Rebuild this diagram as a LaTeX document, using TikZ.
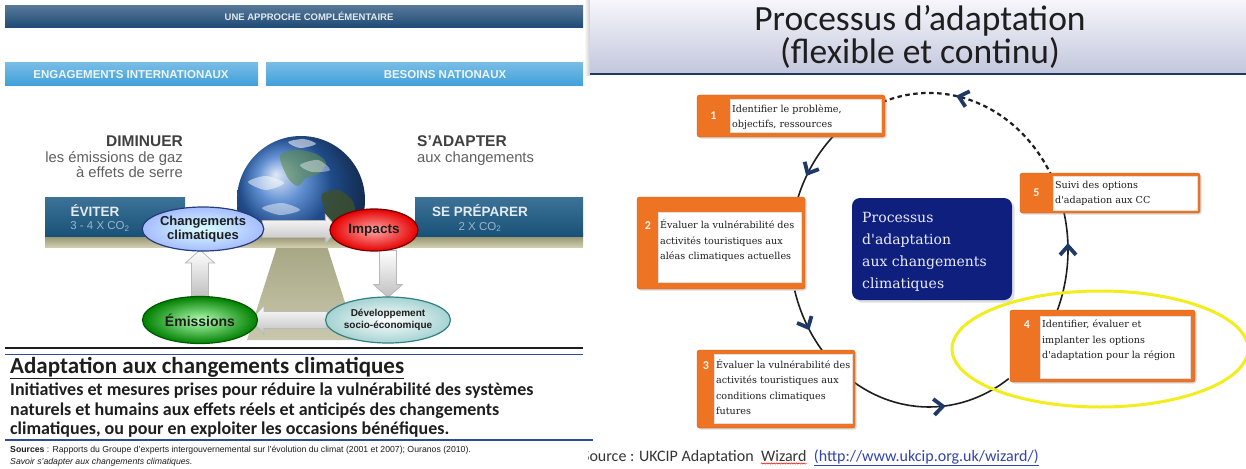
\documentclass[tikz,border=0pt]{standalone}
\usepackage{fontspec}
\setmainfont{Liberation Sans}
\newfontfamily\calfont{Carlito}
\newfontfamily\stepfont{DejaVu Serif}
\usetikzlibrary{shapes.geometric,shadows,decorations.markings,decorations.pathmorphing,calc}
\pgfdeclarelayer{canvasbg}
\pgfdeclarelayer{scenery}
\pgfdeclarelayer{arrowlayer}
\pgfsetlayers{canvasbg,scenery,arrowlayer,main}

\definecolor{hdrnavy}{HTML}{1D4A75}
\definecolor{barblue}{HTML}{3E9FDA}
\definecolor{tealbox}{HTML}{1B5A85}
\definecolor{plankA}{HTML}{86845A}
\definecolor{plankB}{HTML}{CFCDAE}
\definecolor{olive}{HTML}{A4A375}
\definecolor{ink}{HTML}{1E1E1E}
\definecolor{rulblue}{HTML}{2F4A9A}
\definecolor{globeblue}{HTML}{2E6CC4}
\definecolor{landgreen}{HTML}{5E8C4A}
\definecolor{landbrown}{HTML}{3F5028}
\definecolor{procorange}{HTML}{EE7424}
\definecolor{procnavy}{HTML}{0F1F7E}
\definecolor{chevnavy}{HTML}{1F3A66}
\definecolor{ringyellow}{HTML}{F2EE1E}
\definecolor{urlblue}{HTML}{3344AA}
\definecolor{titleA}{HTML}{F6F6FB}
\definecolor{titleB}{HTML}{C3C7DC}
\definecolor{titlenavy}{HTML}{1F3864}

\newcommand{\fsz}[2]{\fontsize{#1}{#2}\selectfont}
% block arrow: start point, direction (degrees), length
\newcommand{\drawblockarrow}[3]{%
  \shade[blockarr, shift={#1}, rotate=#2]
    (0,-8.5) -- ({#3-13},-8.5) -- ({#3-13},-14.5) -- (#3,0) -- ({#3-13},14.5)
    -- ({#3-13},8.5) -- (0,8.5) -- cycle;}

\begin{document}
\begin{tikzpicture}[x=1pt,y=-1pt,
  hdrbar/.style={rectangle, top color=hdrnavy!75!white, bottom color=hdrnavy, inner sep=0},
  bluebar/.style={rectangle, top color=barblue!70!white, bottom color=barblue, inner sep=0},
  hdrtext/.style={font=\fsz{9.5}{11}\bfseries, text=white!88!hdrnavy, inner sep=0},
  bartext/.style={font=\fsz{11.5}{13}\bfseries, text=white!90!barblue, inner sep=0},
  tealpanel/.style={rectangle, top color=tealbox!85!white, bottom color=tealbox!90!black, inner sep=0},
  tealhead/.style={font=\fsz{13.5}{15}\bfseries, text=white!88!tealbox, inner sep=0},
  tealsub/.style={font=\fsz{11.5}{13}, text=white!55!tealbox, inner sep=0},
  lefthead/.style={font=\fsz{15.5}{17}\bfseries, text=ink!85, inner sep=0},
  leftsub/.style={font=\fsz{14.8}{15}, text=gray!75!black, inner sep=0},
  ellnode/.style={ellipse, inner sep=0, line width=1.2, align=center, text=ink},
  blockarr/.style={draw=gray!55, line width=0.8, top color=white, bottom color=gray!50},
  obox/.style={rectangle, rounded corners=2.5, fill=procorange, draw=procorange!85!black,
    line width=0.4, drop shadow={shadow xshift=1.5pt, shadow yshift=-1.5pt, opacity=0.3}, inner sep=0},
  wbox/.style={rectangle, fill=white, draw=gray!25, line width=0.3, inner sep=0},
  btxt/.style={font=\stepfont\fsz{9.6}{15.5}, text=ink, align=left, inner sep=1},
  bnum/.style={font=\calfont\fsz{12}{12}\bfseries, text=white!92!procorange, inner sep=0},
  navybox/.style={rectangle, rounded corners=8, fill=procnavy, inner sep=0, drop shadow={opacity=0.25}},
  flowline/.style={line width=1.6, draw=ink},
  dashline/.style={line width=2.2, draw=ink, dash pattern=on 4.5pt off 3.5pt},
  chevron/.style={solid, line width=3.8, draw=chevnavy, line join=miter, line cap=butt},
  chevat/.style={postaction={decorate, decoration={markings,
    mark=at position #1 with {\draw[chevron] (-5.5pt,8pt) -- (3.5pt,0pt) -- (-5.5pt,-8pt);}}}},
]
\useasboundingbox (0,0) rectangle (1246,468);
\begin{pgfonlayer}{canvasbg}
  \fill[white] (0,0) rectangle (1246,468);
\end{pgfonlayer}

% ================= left slide =================
\node[hdrbar, minimum width=578, minimum height=22] (hdr) at (294,17) {};
\node[hdrtext] (hdrt) at (309,16.5) {UNE APPROCHE COMPLÉMENTAIRE};

\node[bluebar, minimum width=253, minimum height=23] (engbar) at (131.5,74.5) {};
\node[bartext] (engt) at (131,75) {ENGAGEMENTS INTERNATIONAUX};
\node[bluebar, minimum width=317, minimum height=23] (besbar) at (424.5,74.5) {};
\node[bartext] (best) at (445,75) {BESOINS NATIONAUX};

\node[lefthead, anchor=base east] (dim) at (183,146) {DIMINUER};
\node[leftsub, anchor=base east] (dim2) at (183,162) {les émissions de gaz};
\node[leftsub, anchor=base east] (dim3) at (183,177.5) {à effets de serre};
\node[lefthead, anchor=base west] (sad) at (417,146) {S'ADAPTER};
\node[leftsub, anchor=base west] (sad2) at (417,162) {aux changements};

% fulcrum, globe and plank of the balance
\begin{pgfonlayer}{scenery}
  \shade[top color=olive!85!black, bottom color=olive!60!white]
    (302,168) -- (357,340) -- (247,340) -- cycle;
  \begin{scope}
    \clip (225,125) rectangle (380,240);
    \node[circle, minimum size=128, inner sep=0, ball color=globeblue] (globe) at (301,200) {};
    \fill[landgreen, opacity=0.6] plot[smooth cycle] coordinates
      {(280,156) (296,150) (316,154) (326,163) (318,174) (306,178) (298,186) (288,178)};
    \fill[white, opacity=0.55] plot[smooth cycle] coordinates
      {(288,142) (304,139) (316,144) (300,148)};
    \fill[landbrown, opacity=0.8] plot[smooth cycle] coordinates
      {(322,194) (338,190) (352,200) (356,216) (349,232) (338,240) (329,226) (324,208)};
    \fill[white, opacity=0.5] plot[smooth cycle] coordinates
      {(248,182) (266,176) (284,183) (266,190)};
    \fill[white, opacity=0.45] plot[smooth cycle] coordinates
      {(262,208) (282,203) (300,210) (280,215)};
    \fill[white, opacity=0.4] plot[smooth cycle] coordinates
      {(300,165) (318,160) (330,170) (312,172)};
  \end{scope}
  \shade[top color=plankA, bottom color=plankB] (45,233) rectangle (583,247);
\end{pgfonlayer}

\node[tealpanel, minimum width=140, minimum height=39] (evb) at (115,216.5) {};
\node[tealhead] (evt) at (95,211) {ÉVITER};
\node[tealsub] (evs) at (100,226.5) {3 - 4 X CO\textsubscript{2}};
\node[tealpanel, minimum width=168, minimum height=39] (spb) at (499,216.5) {};
\node[tealhead] (spt) at (480,211) {SE PRÉPARER};
\node[tealsub] (sps) at (480,227) {2 X CO\textsubscript{2}};

% the four stages of the cycle
\node[ellnode, minimum width=110, minimum height=44, draw=rulblue!80!black,
  inner color=white!85!cyan, outer color=cyan!25!blue!35!white, font=\fsz{13}{13.5}\bfseries]
  (cc) at (203,229) {Changements\\climatiques};
\node[ellnode, minimum width=88, minimum height=42, draw=red!45!black,
  inner color=red!35!white, outer color=red!90!black, font=\fsz{13.5}{14}\bfseries]
  (imp) at (374,230) {Impacts};
\node[ellnode, minimum width=115, minimum height=47, draw=green!35!black,
  inner color=green!30!white, outer color=green!50!black, font=\fsz{14}{14}\bfseries]
  (em) at (200,320) {Émissions};
\node[ellnode, minimum width=115, minimum height=46, draw=teal!60!gray,
  inner color=white, outer color=teal!35!white, font=\fsz{10}{11.5}\bfseries]
  (dev) at (388,320) {Développement\\socio-économique};

\begin{pgfonlayer}{arrowlayer}
  \drawblockarrow{($(cc.east)+(-2,0)$)}{0}{76}
  \drawblockarrow{($(dev.north)+(0,-46)$)}{-90}{47}
  \drawblockarrow{($(dev.west)+(2,0)$)}{180}{76}
  \drawblockarrow{($(em.north)+(0,1)$)}{90}{47}
\end{pgfonlayer}

% definition block
\draw[line width=1.8, ink] (5,348) -- (583,348);
\draw[line width=0.9, rulblue] (5,354) -- (583,354);
\node[anchor=base west, inner sep=0, font=\calfont\fsz{23}{24}\bfseries, text=ink] (deft)
  at (10,373) {\underline{Adaptation aux changements climatiques}};
\node[anchor=base west, inner sep=0, font=\calfont\fsz{18}{19.5}\bfseries, text=ink] (def1)
  at (10,395) {Initiatives et mesures prises pour réduire la vulnérabilité des systèmes};
\node[anchor=base west, inner sep=0, font=\calfont\fsz{18}{19.5}\bfseries, text=ink] (def2)
  at (10,415) {naturels et humains aux effets réels et anticipés des changements};
\node[anchor=base west, inner sep=0, font=\calfont\fsz{18}{19.5}\bfseries, text=ink] (def3)
  at (10,434) {climatiques, ou pour en exploiter les occasions bénéfiques.};
\draw[line width=1.3, rulblue] (5,440) -- (593,440);
\node[anchor=base west, inner sep=0, font=\fsz{8.7}{9}, text=ink] (src1)
  at (10,452) {\textbf{Sources} : Rapports du Groupe d'experts intergouvernemental sur l'évolution du climat (2001 et 2007); Ouranos (2010).};
\node[anchor=base west, inner sep=0, font=\fsz{8.7}{9}\itshape, text=ink] (src2)
  at (10,464) {Savoir s'adapter aux changements climatiques.};

% ================= right slide =================
\shade[left color=white, right color=gray!40] (584,0) rectangle (590,76);
\shade[top color=titleA, bottom color=titleB] (590,0) rectangle (1246,73);
\draw[line width=2, titlenavy] (590,74) -- (1246,74);
\node[font=\calfont\fsz{35.5}{31}, text=ink, align=center, inner sep=0] (ttl)
  at (920,37) {Processus d’adaptation\\(flexible et continu)};

% steps
\node[obox, minimum width=188, minimum height=42] (b1) at (791,116) {};
\node[wbox, minimum width=151, minimum height=33, anchor=east] (w1) at ([xshift=-4pt]b1.east) {};
\node[btxt, anchor=north west] (t1) at ([xshift=1pt,yshift=-4pt]w1.north west) {Identifier le problème,\\objectifs, ressources};
\node[bnum] (n1) at ($(b1.west)!0.5!(w1.west)$) {1};

\node[obox, minimum width=168, minimum height=92] (b2) at (721,243) {};
\node[wbox, minimum width=143, minimum height=70, anchor=east] (w2) at ([xshift=-4pt,yshift=-4pt]b2.east) {};
\node[btxt, anchor=north west] (t2) at ([xshift=1pt,yshift=-7pt]w2.north west) {Évaluer la vulnérabilité des\\activités touristiques aux\\aléas climatiques actuelles};
\node[bnum] (n2) at (648,226) {2};

\node[obox, minimum width=158, minimum height=78] (b3) at (776,389) {};
\node[wbox, minimum width=138, minimum height=69, anchor=east] (w3) at ([xshift=-3pt]b3.east) {};
\node[btxt, anchor=north west] (t3) at ([xshift=1pt,yshift=-4pt]w3.north west) {Évaluer la vulnérabilité des\\activités touristiques aux\\conditions climatiques\\futures};
\node[bnum] (n3) at (706,366) {3};

\node[obox, minimum width=185, minimum height=72] (b4) at (1102.5,346) {};
\node[wbox, minimum width=150, minimum height=62, anchor=east] (w4) at ([xshift=-5pt,yshift=-1pt]b4.east) {};
\node[btxt, anchor=north west] (t4) at ([xshift=1pt,yshift=-3pt]w4.north west) {Identifier, évaluer et\\implanter les options\\d'adaptation pour la région};
\node[bnum] (n4) at (1027,325) {4};

\node[obox, minimum width=180, minimum height=40] (b5) at (1110,193) {};
\node[wbox, minimum width=144, minimum height=34, anchor=east] (w5) at ([xshift=-3pt]b5.east) {};
\node[btxt, anchor=north west] (t5) at ([xshift=1pt,yshift=-4pt]w5.north west) {Suivi des options\\d'adapation aux CC};
\node[bnum] (n5) at ($(b5.west)!0.5!(w5.west)$) {5};

\node[navybox, minimum width=160, minimum height=102] (nb) at (932,249) {};
\node[anchor=north west, inner sep=0, font=\stepfont\fsz{14}{22}, text=white!92!blue, align=left] (nbt)
  at (862,212) {Processus\\d'adaptation\\aux changements\\climatiques};

% the cycle, drawn behind the steps
\coordinate (C) at (929,250);
\coordinate (s12) at ($(C)+(-130:139 and 157)$);
\coordinate (s23) at ($(C)+(-195:139 and 157)$);
\coordinate (s34) at ($(C)+(-230:139 and 157)$);
\coordinate (s45) at ($(C)+(-330:139 and 157)$);
\coordinate (s51) at ($(C)+(-25:139 and 157)$);
\begin{pgfonlayer}{scenery}
  \draw[flowline, chevat=0.55] (s12) arc[start angle=-130, end angle=-165, x radius=139, y radius=157];
  \draw[flowline, chevat=0.45] (s23) arc[start angle=-195, end angle=-225, x radius=139, y radius=157];
  \draw[flowline, chevat=0.59] (s34) arc[start angle=-230, end angle=-305, x radius=139, y radius=157];
  \draw[flowline, chevat=0.67] (s45) arc[start angle=-330, end angle=-375, x radius=139, y radius=157];
  \draw[dashline, chevat=0.6] (s51) arc[start angle=-25, end angle=-112, x radius=139, y radius=157];
\end{pgfonlayer}

% highlight of step 4
\draw[ringyellow, line width=3] (1100,349) ellipse [x radius=148, y radius=58];

% reference line
\begin{scope}
  \clip (588,444) rectangle (1246,468);
  \node[anchor=base west, inner sep=0, font=\calfont\fsz{16}{16}, text=ink!90] (src) at (582,461) {Source : UKCIP Adaptation};
  \node[anchor=base west, inner sep=0, font=\calfont\fsz{16}{16}, text=ink!90] (wiz) at ([xshift=7pt]src.base east) {Wizard};
  \node[anchor=base west, inner sep=0, font=\calfont\fsz{16}{16}, text=urlblue] (url) at ([xshift=7pt]wiz.base east) {\underline{(http://www.ukcip.org.uk/wizard/)}};
  \draw[red, line width=0.5, decorate, decoration={snake, amplitude=0.6pt, segment length=2.5pt}]
    ([yshift=-2.5pt]wiz.base west) -- ([yshift=-2.5pt]wiz.base east);
\end{scope}
\end{tikzpicture}
\end{document}
